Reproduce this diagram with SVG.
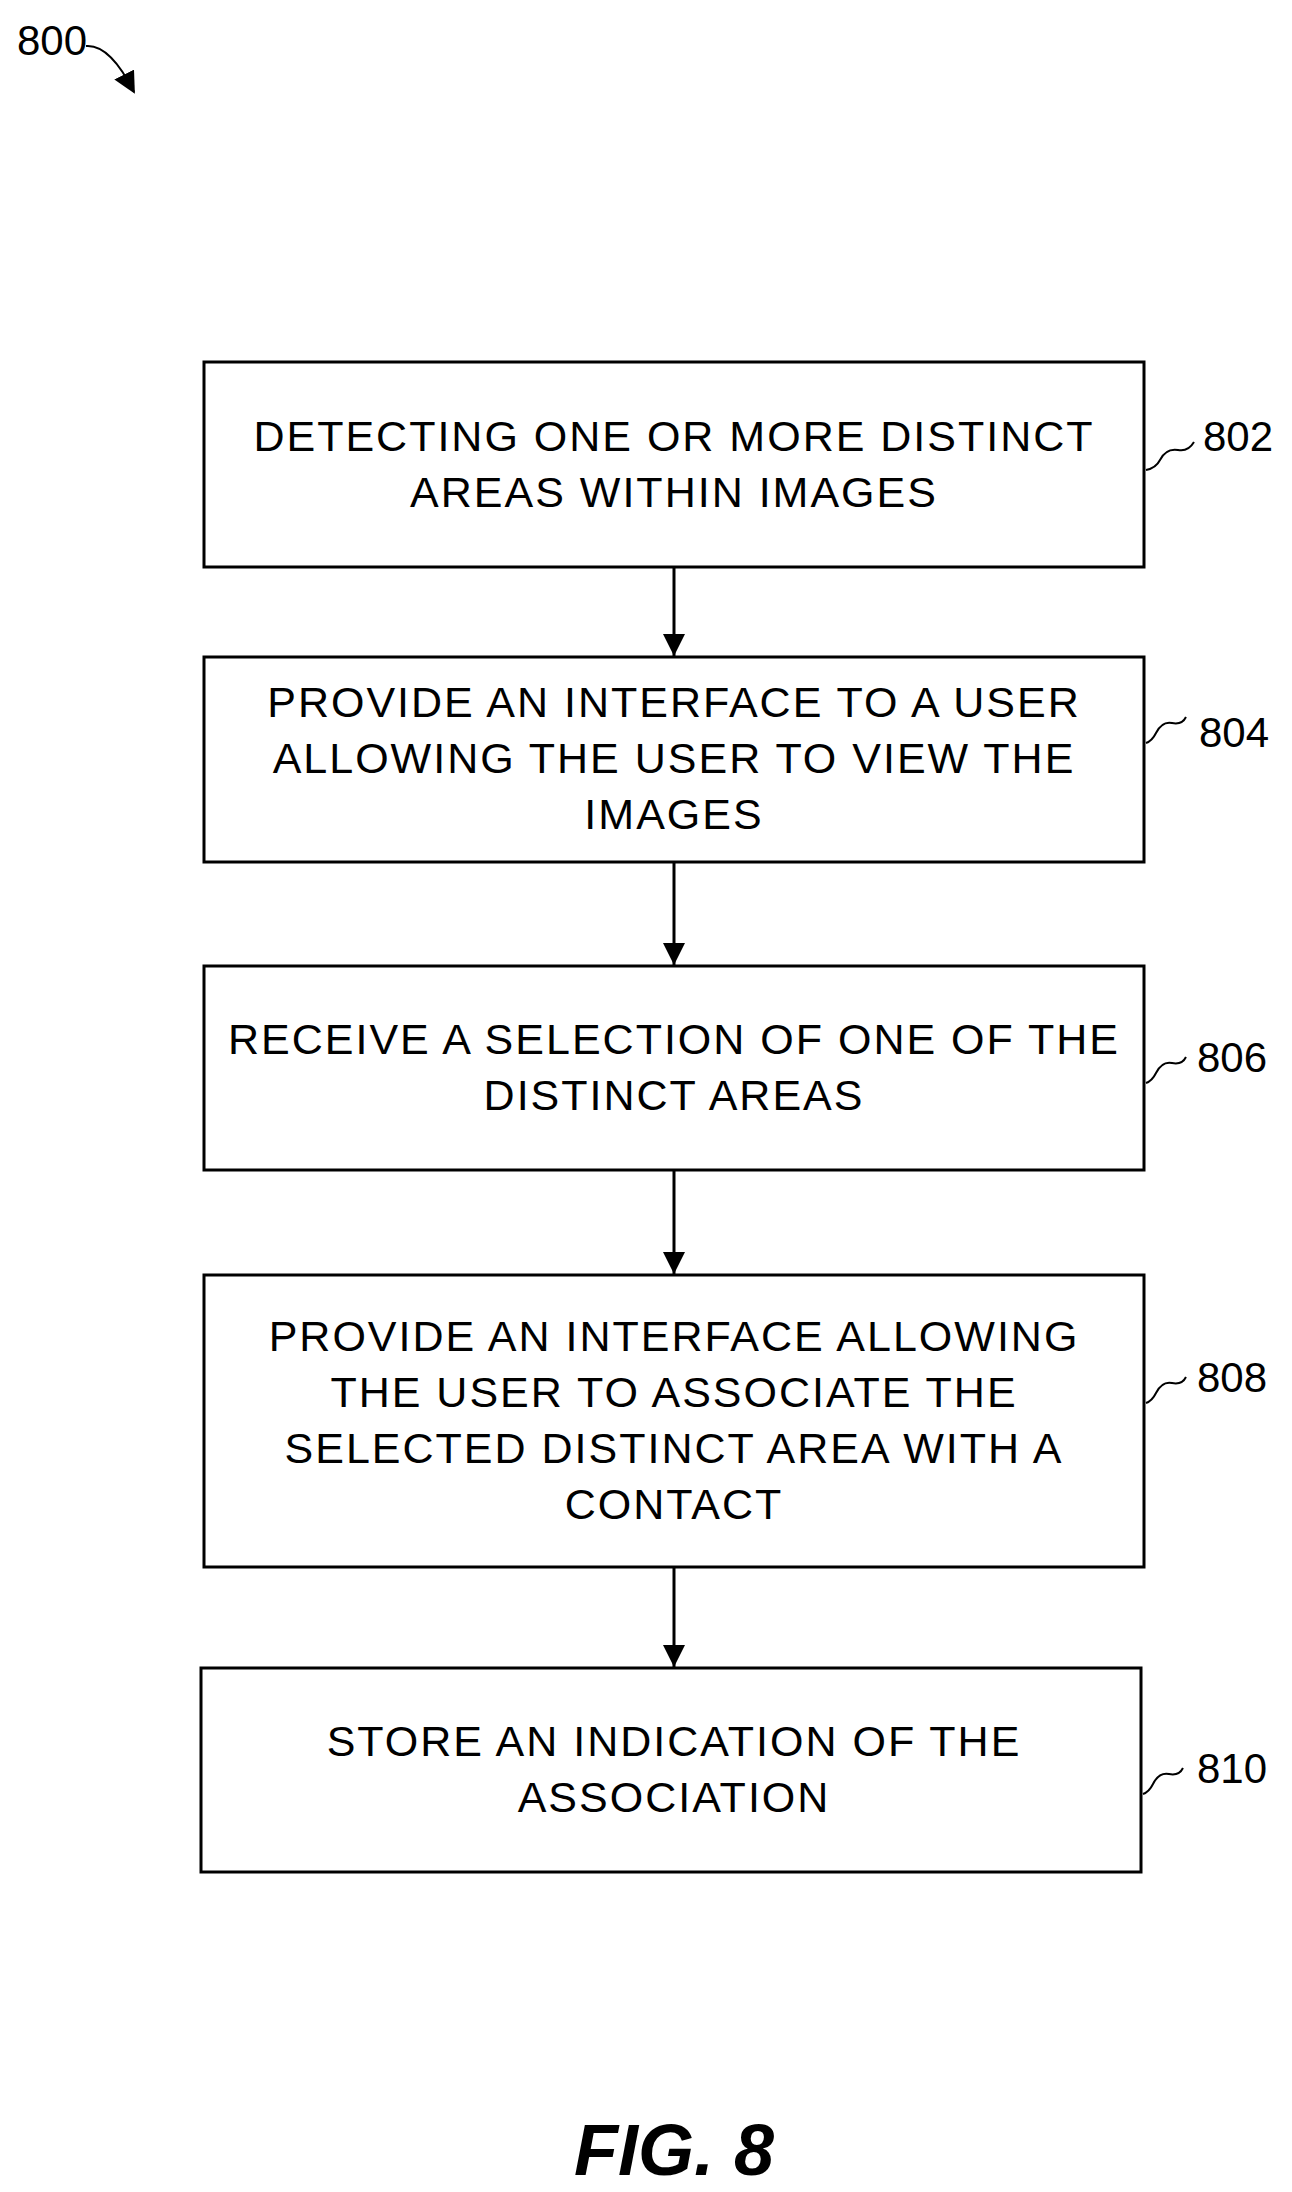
<svg xmlns="http://www.w3.org/2000/svg" width="1292" height="2192" viewBox="0 0 1292 2192">
<style>
.box{fill:#fff;stroke:#000;stroke-width:3}
.t{font-family:"Liberation Sans",Arial,sans-serif;font-size:43px;letter-spacing:2px;text-anchor:middle;fill:#000}
.l{font-family:"Liberation Sans",Arial,sans-serif;font-size:42px;fill:#000}
.c{fill:none;stroke:#000;stroke-width:3}
.s{fill:none;stroke:#000;stroke-width:2}
</style>
<defs><marker id="ah" markerWidth="24" markerHeight="24" refX="20" refY="10" orient="auto" markerUnits="userSpaceOnUse"><path d="M0,0 L22,10 L0,22 Z" fill="#000"/></marker>
<marker id="a2" markerWidth="24" markerHeight="22" refX="22" refY="11" orient="auto" markerUnits="userSpaceOnUse"><path d="M0,0 L22,11 L0,22 Z" fill="#000"/></marker></defs>
<text class="l" x="17" y="55">800</text>
<path class="s" d="M86,46 Q110,44 134,92" marker-end="url(#ah)"/>
<g id="n802"><rect class="box" x="204" y="362" width="940" height="205"/><text class="t" x="674" y="451">DETECTING ONE OR MORE DISTINCT</text><text class="t" x="674" y="507">AREAS WITHIN IMAGES</text><text class="l" x="1203" y="451">802</text><path class="s" d="M1146,470 q10,-2 14,-10 q6,-12 18,-10 q10,2 16,-8"/></g>
<g id="n804"><rect class="box" x="204" y="657" width="940" height="205"/><text class="t" x="674" y="717">PROVIDE AN INTERFACE TO A USER</text><text class="t" x="674" y="773">ALLOWING THE USER TO VIEW THE</text><text class="t" x="674" y="829">IMAGES</text><text class="l" x="1199" y="747">804</text><path class="s" d="M1146,743 q6,-2 10,-10 q6,-12 16,-10 q10,2 14,-6"/></g>
<g id="n806"><rect class="box" x="204" y="966" width="940" height="204"/><text class="t" x="674" y="1054">RECEIVE A SELECTION OF ONE OF THE</text><text class="t" x="674" y="1110">DISTINCT AREAS</text><text class="l" x="1197" y="1072">806</text><path class="s" d="M1146,1083 q6,-2 10,-10 q6,-12 16,-10 q10,2 14,-6"/></g>
<g id="n808"><rect class="box" x="204" y="1275" width="940" height="292"/><text class="t" x="674" y="1351">PROVIDE AN INTERFACE ALLOWING</text><text class="t" x="674" y="1407">THE USER TO ASSOCIATE THE</text><text class="t" x="674" y="1463">SELECTED DISTINCT AREA WITH A</text><text class="t" x="674" y="1519">CONTACT</text><text class="l" x="1197" y="1392">808</text><path class="s" d="M1146,1403 q6,-2 10,-10 q6,-12 16,-10 q10,2 14,-6"/></g>
<g id="n810"><rect class="box" x="201" y="1668" width="940" height="204"/><text class="t" x="674" y="1756">STORE AN INDICATION OF THE</text><text class="t" x="674" y="1812">ASSOCIATION</text><text class="l" x="1197" y="1783">810</text><path class="s" d="M1143,1794 q6,-2 10,-10 q6,-12 16,-10 q10,2 14,-6"/></g>
<g id="connectors">
<line class="c" x1="674" y1="567" x2="674" y2="656" marker-end="url(#a2)"/>
<line class="c" x1="674" y1="862" x2="674" y2="965" marker-end="url(#a2)"/>
<line class="c" x1="674" y1="1170" x2="674" y2="1274" marker-end="url(#a2)"/>
<line class="c" x1="674" y1="1567" x2="674" y2="1667" marker-end="url(#a2)"/>
</g>
<text x="674" y="2175" text-anchor="middle" style="font-family:'Liberation Sans',Arial,sans-serif;font-size:72px;font-weight:bold;font-style:italic">FIG. 8</text>
</svg>
